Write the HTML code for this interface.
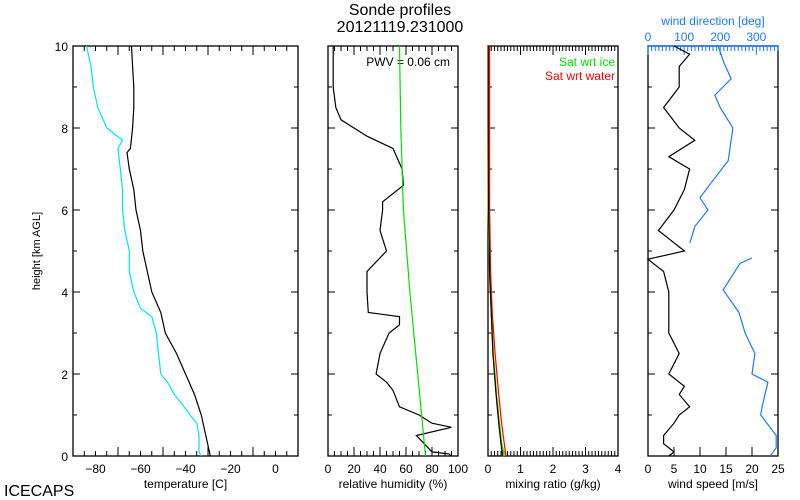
<!DOCTYPE html>
<html><head><meta charset="utf-8"><style>
body{margin:0;background:#fff}
svg{display:block;font-family:"Liberation Sans",sans-serif}
</style></head><body>
<svg id="c" width="800" height="500" viewBox="0 0 800 500">
<rect width="800" height="500" fill="#fff"/>
<text x="400" y="15" font-size="16" text-anchor="middle">Sonde profiles</text>
<text x="400" y="32" font-size="16" text-anchor="middle">20121119.231000</text>
<text x="4" y="496" font-size="16">ICECAPS</text>
<text x="40" y="251" font-size="11" text-anchor="middle" transform="rotate(-90 40 251)">height [km AGL]</text>
<text x="450" y="66" font-size="12" text-anchor="end">PWV = 0.06 cm</text>
<text x="615" y="66" font-size="12" fill="#00e000" text-anchor="end">Sat wrt ice</text>
<text x="615" y="80" font-size="12" fill="#ff0000" text-anchor="end">Sat wrt water</text>
<text x="713" y="25" font-size="12" fill="#1e78ff" text-anchor="middle">wind direction [deg]</text>
<g id="g"></g>
</svg>
<script>
// data (height km)
const tempH=[0,0.5,1,1.5,2,2.5,3,3.5,4,4.5,5,5.5,6,6.5,7,7.4,7.5,8,8.5,9,9.5,10];
const tempV=[-29,-31,-33,-36,-40,-44,-49,-51,-55,-57,-59,-60,-62,-63,-65,-66,-64.5,-63.5,-63,-63,-63.5,-64];
const dewH=[0,0.1,0.5,0.8,1,1.3,1.5,1.8,2,2.5,3,3.4,3.6,4,4.5,5,5.5,6,6.5,7,7.5,7.7,8,8.5,9,9.5,10];
const dewV=[-33,-34,-34,-35,-38,-42,-45,-48,-51,-52,-53,-55,-60,-63,-65,-65,-67,-68,-68,-69,-70,-68,-75,-79,-81,-82,-84];
const rhH=[0,0.05,0.1,0.3,0.5,0.7,0.8,1,1.2,1.6,1.8,2,2.5,3,3.2,3.4,3.5,4,4.5,5,5.5,6,6.2,6.6,7,7.5,7.8,8.2,8.5,9,10];
const rhV=[95,93,80,74,68,95,80,70,55,50,45,37,40,47,55,55,31,30,30,45,40,42,42,58,57,50,30,10,6,4,4];
const iceH=[0,2,4,6,8,10];
const iceV=[75,69,63,58,56,55];
const mrH=[0,0.3,0.8,1.5,2.5,3.5,4.5,6,8,10];
const mrV=[0.45,0.4,0.33,0.25,0.15,0.1,0.05,0.02,0.01,0.01];
const mrWaterV=[0.55,0.5,0.42,0.33,0.22,0.13,0.08,0.05,0.05,0.05];
const mrIceV=[0.5,0.42,0.35,0.26,0.16,0.1,0.05,0.02,0.01,0.01];
const wsH=[0,0.1,0.3,0.5,0.8,1,1.2,1.5,1.7,2,2.5,3,3.5,4,4.5,4.7,4.8,5,5.3,5.5,6,6.5,7,7.3,7.7,8,8.5,9,9.5,9.8,10];
const wsV=[4,5,3,3,5,6,8,6,7,4,6,4,4,4,3,1,0,7,4,2,5,7,8,4,9,6,3,6,6,8,5];
const wdLowH=[0,0.2,0.5,1,1.2,1.8,2,2.5,3,3.5,4.05,4.7,4.83];
const wdLowV=[338,355,355,312,316,332,288,296,269,252,208,255,288];
const wdUpH=[5.2,5.6,6,6.3,6.7,7.2,8,8.5,8.8,9.2,9.6,10];
const wdUpV=[116,130,166,144,178,222,235,200,185,230,210,194];

const NS='http://www.w3.org/2000/svg', G=document.getElementById('g');
const Y0=456,Y1=46;
const yS=h=>Y0-(Y0-Y1)*h/10;
function el(t,a,p){const e=document.createElementNS(NS,t);for(const k in a)e.setAttribute(k,a[k]);(p||G).appendChild(e);return e;}
function panel(name,x0,x1,lo,hi,major,minor,labels,title,topTicks){
  const g=el('g',{});
  
  
  el('rect',{x:x0,y:Y1,width:x1-x0,height:Y0-Y1,fill:'none',stroke:'#000','stroke-width':1.3},g);
  const xs=v=>x0+(x1-x0)*(v-lo)/(hi-lo);
  for(let h=0;h<=10;h+=1){const L=h%2?4:7;
    el('line',{x1:x0,x2:x0+L,y1:yS(h),y2:yS(h),stroke:'#000'},g);
    el('line',{x1:x1,x2:x1-L,y1:yS(h),y2:yS(h),stroke:'#000'},g);}
  for(let v=lo;v<=hi+1e-9;v+=minor){const m=Math.abs(Math.round((v-lo)/major)*major-(v-lo))<1e-6;const L=m?9:5;
    el('line',{x1:xs(v),x2:xs(v),y1:Y0,y2:Y0-L,stroke:'#000'},g);
    if(topTicks)el('line',{x1:xs(v),x2:xs(v),y1:Y1,y2:Y1+L,stroke:'#000'},g);}
  labels.forEach(v=>{const t=el('text',{x:xs(v),y:Y0+17,'font-size':12,'text-anchor':'middle'},g);t.textContent=String(v).replace('-','\u2212');
    
    });
  const t=el('text',{x:(x0+x1)/2,y:Y0+32,'font-size':12,'text-anchor':'middle'},g);t.textContent=title;
  
  
  return xs;
}
function line(xs,H,V,col,name,w,dash){
  const p=H.map((h,i)=>xs(V[i]).toFixed(1)+','+yS(h).toFixed(1)).join(' ');
  const e=el('polyline',{points:p,fill:'none',stroke:col,'stroke-width':w||1.2});
  if(dash)e.setAttribute('stroke-dasharray',dash);
  
  
}
// y labels
[0,2,4,6,8,10].forEach(h=>{const t=el('text',{x:68,y:yS(h)+5,'font-size':12,'text-anchor':'end'});t.textContent=h;
  
  });

const xT=panel('temperature-panel',73,298,-90,10,20,5,[-80,-60,-40,-20,0],'temperature [C]',true);
line(xT,dewH,dewV,'#00e5ee','dewpoint-line');
line(xT,tempH,tempV,'#000','temperature-line');

const xR=panel('rh-panel',328,458,0,100,20,5,[0,20,40,60,80,100],'relative humidity (%)',true);
line(xR,rhH,rhV,'#000','rh-line');
line(xR,iceH,iceV,'#00e000','rh-sat-ice-line');

const xM=panel('mixing-ratio-panel',488,618,0,4,1,0.1,[0,1,2,3,4],'mixing ratio (g/kg)',true);
line(xM,mrH,mrIceV,'#ffee00','mr-yellow-line',2);
line(xM,mrH,mrWaterV,'#ff0000','mr-sat-water-line');
line(xM,mrH,mrIceV,'#00e000','mr-sat-ice-line');
line(xM,mrH,mrV,'#000','mr-line');

const xW=panel('wind-panel',648,778,0,25,5,5,[0,5,10,15,20,25],'wind speed [m/s]',false);
// top direction axis
const xD=d=>648+130*d/360;
el('line',{x1:648,x2:778,y1:Y1,y2:Y1,stroke:'#1e78ff','stroke-width':1.5});
for(let d=0;d<=360;d+=10){const L=d%100===0?9:5;el('line',{x1:xD(d),x2:xD(d),y1:Y1,y2:Y1+L,stroke:'#1e78ff'});}
[0,100,200,300].forEach(d=>{const t=el('text',{x:xD(d),y:41,'font-size':12,fill:'#1e78ff','text-anchor':'middle'});t.textContent=d;
  
  });
line(xW,wsH,wsV,'#000','wind-speed-line');
line(xD,wdLowH,wdLowV,'#1e78ff','wind-direction-lower-line');
line(xD,wdUpH,wdUpV,'#1e78ff','wind-direction-upper-line');
</script>
</body></html>
